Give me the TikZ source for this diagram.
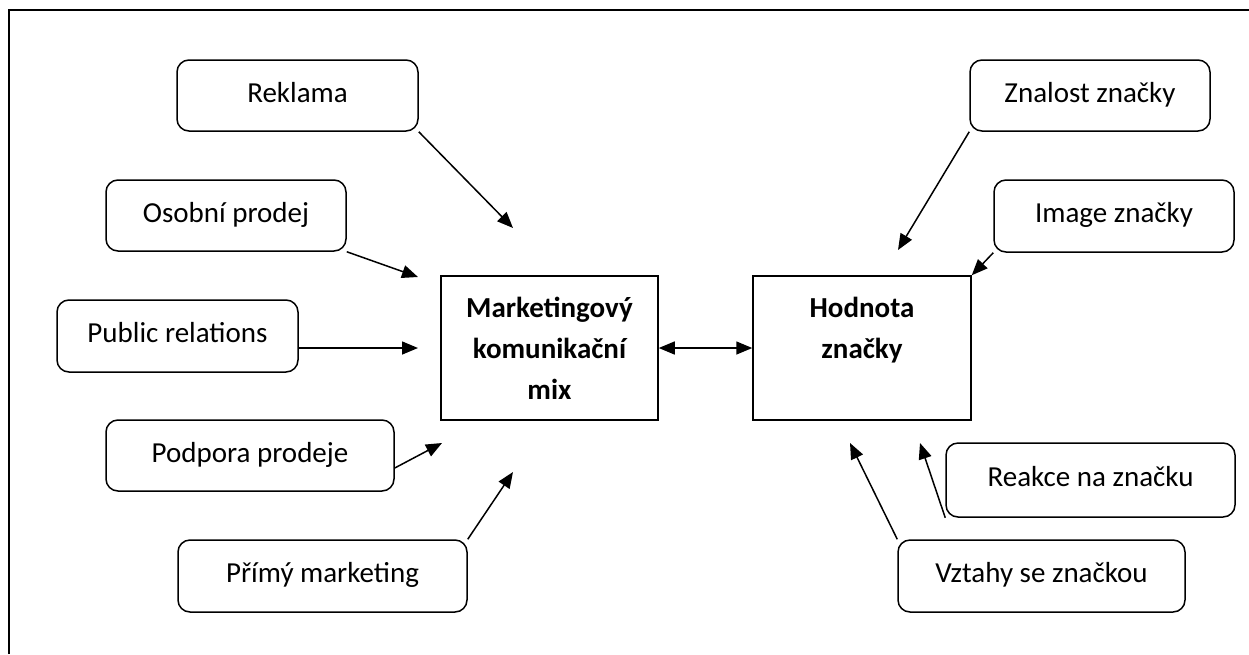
\documentclass[tikz,border=0pt]{standalone}
\usepackage{fontspec}
\setmainfont{Carlito}
\usetikzlibrary{arrows.meta}
\begin{document}
\begin{tikzpicture}[x=1pt,y=-1pt,
  line width=1.5pt,
  every node/.style={font=\fontsize{29}{41}\selectfont},
  itembox/.style={draw, rounded corners=12pt, minimum height=71pt, inner sep=0pt,
    text height=21pt, text depth=8pt},
  mainbox/.style={draw, minimum width=217pt, minimum height=144pt, inner sep=0pt,
    align=center, font=\fontsize{29}{41}\selectfont\bfseries},
  arr/.style={-{Triangle[length=16pt,width=13pt]}},
  darr/.style={{Triangle[length=16pt,width=13pt]}-{Triangle[length=16pt,width=13pt]}}]
\useasboundingbox (0,0) rectangle (1249,654);
% frame
\draw[line width=1.6pt] (9,654) -- (9,10) -- (1249,10);
% main boxes
\node[mainbox] (mk) at (549.5,348) {Marketingový\\komunikační\\mix};
\node[mainbox, minimum width=218pt] (hod) at (862,348) {Hodnota\\značky\\\mbox{}};
% left items
\node[itembox, minimum width=241pt] (rek) at (297.5,95.5) {Reklama};
\node[itembox, minimum width=240pt] (oso) at (226,215.5) {Osobní prodej};
\node[itembox, minimum width=241pt, minimum height=72pt] (pr) at (177.5,336) {Public relations};
\node[itembox, minimum width=288pt] (pod) at (250,455.5) {Podpora prodeje};
\node[itembox, minimum width=289pt, minimum height=72pt] (pri) at (322.5,576) {Přímý marketing};
% right items
\node[itembox, minimum width=240pt] (zna) at (1090,95.5) {Znalost značky};
\node[itembox, minimum width=240pt, minimum height=72pt] (img) at (1114,216) {Image značky};
\node[itembox, minimum width=289pt, minimum height=74pt] (rea) at (1090.5,480) {Reakce na značku};
\node[itembox, minimum width=287pt, minimum height=72pt] (vzt) at (1041.5,576) {Vztahy se značkou};
% arrow tips (free ends)
\coordinate (t1) at (513,228);
\coordinate (t2) at (418,277);
\coordinate (t3) at (418,348);
\coordinate (t4) at (442,443);
\coordinate (t5) at (513,472);
\coordinate (t6) at (898,250);
\coordinate (t8) at (920,443);
\coordinate (t9) at (850,443);
% connectors
\draw[arr] (rek.south east) -- (t1);
\draw[arr] (oso.south east) -- (t2);
\draw[arr] ([yshift=-12pt]pr.east) -- (t3);
\draw[arr] ([yshift=-12.5pt]pod.east) -- (t4);
\draw[arr] (pri.north east) -- (t5);
\draw[darr] (mk.east) -- (hod.west);
\draw[arr] (zna.south west) -- (t6);
\draw[arr] (img.south west) -- (hod.north east);
\draw[arr] (rea.south west) -- (t8);
\draw[arr] (vzt.north west) -- (t9);
\end{tikzpicture}
\end{document}
